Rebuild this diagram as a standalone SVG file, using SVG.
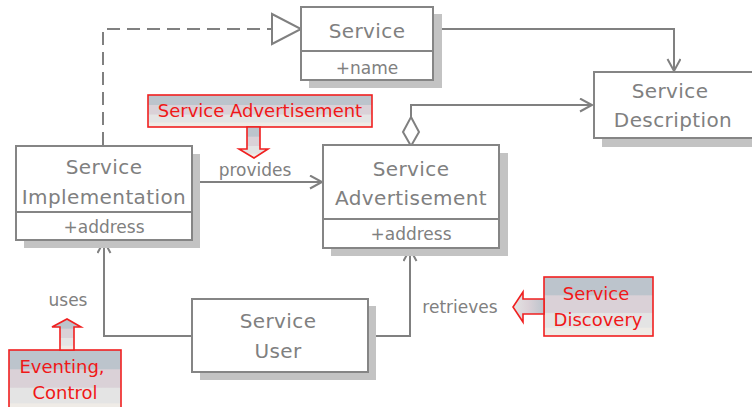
<svg xmlns="http://www.w3.org/2000/svg" width="752" height="407" viewBox="0 0 752 407">
<style>
.box{fill:#fff;stroke:#858585;stroke-width:2}
.sh{fill:#c3c3c3}
.t{font-family:"DejaVu Sans",Verdana,sans-serif;font-size:20px;letter-spacing:0.4px;fill:#808080;text-anchor:middle}
.a{font-family:"DejaVu Sans",Verdana,sans-serif;font-size:17px;fill:#808080;text-anchor:middle}
.c{font-family:"DejaVu Sans",Verdana,sans-serif;font-size:18px;fill:#f01818;text-anchor:middle}
.ln{fill:none;stroke:#808080;stroke-width:2}
.cb{fill:url(#g);stroke:#f02020;stroke-width:1.6}
</style>
<defs>
<linearGradient id="g" x1="0" y1="0" x2="0" y2="1">
<stop offset="0" stop-color="#bcc4cc"/>
<stop offset="0.3" stop-color="#bcc4cc"/>
<stop offset="0.32" stop-color="#dad1d7"/>
<stop offset="0.6" stop-color="#dad1d7"/>
<stop offset="0.62" stop-color="#e4e4e4"/>
<stop offset="0.85" stop-color="#e4e4e4"/>
<stop offset="0.87" stop-color="#efebe6"/>
<stop offset="1" stop-color="#efebe6"/>
</linearGradient>
<linearGradient id="gh" x1="0" y1="0" x2="1" y2="0">
<stop offset="0" stop-color="#e4e4e4"/>
<stop offset="0.5" stop-color="#dad1d7"/>
<stop offset="1" stop-color="#bcc4cc"/>
</linearGradient>
<marker id="arr" markerWidth="16" markerHeight="16" refX="13" refY="7" orient="auto" markerUnits="userSpaceOnUse">
<path d="M1,0.5 L13,7 L1,13.5" fill="none" stroke="#808080" stroke-width="2"/>
</marker>
</defs>

<g id="connectors">
<path class="ln" d="M103,145 V29 H272" stroke-dasharray="13,7"/>
<polygon points="272,14 301,29 272,44" fill="#fff" stroke="#808080" stroke-width="2"/>
<path class="ln" d="M433,29 H674 V71" marker-end="url(#arr)"/>
<path class="ln" d="M411,117 V105 H592" marker-end="url(#arr)"/>
<polygon points="411,117 419,132 411,146 403,132" fill="#fff" stroke="#808080" stroke-width="2"/>
<path class="ln" d="M192,182 H322" marker-end="url(#arr)"/>
<text class="a" x="255" y="176">provides</text>
<path class="ln" d="M192,336 H104 V241" marker-end="url(#arr)"/>
<text class="a" x="68" y="306">uses</text>
<path class="ln" d="M368,336 H410 V249" marker-end="url(#arr)"/>
<text class="a" x="460" y="313">retrieves</text>
</g>

<g id="service">
<rect class="sh" x="309" y="14" width="133" height="74"/>
<rect class="box" x="301" y="7" width="132" height="73"/>
<line x1="301" y1="51" x2="433" y2="51" stroke="#858585" stroke-width="2"/>
<text class="t" x="367" y="38">Service</text>
<text class="a" x="367" y="74">+name</text>
</g>

<g id="service-description">
<rect class="sh" x="602" y="80" width="160" height="67"/>
<rect class="box" x="594" y="72" width="170" height="66"/>
<text class="t" x="670" y="98">Service</text>
<text class="t" x="673" y="127">Description</text>
</g>

<g id="service-implementation">
<rect class="sh" x="24" y="154" width="176" height="94"/>
<rect class="box" x="16" y="146" width="176" height="94"/>
<line x1="16" y1="212" x2="192" y2="212" stroke="#858585" stroke-width="2"/>
<text class="t" x="104" y="174">Service</text>
<text class="t" x="104" y="204">Implementation</text>
<text class="a" x="104" y="233">+address</text>
</g>

<g id="service-advertisement">
<rect class="sh" x="331" y="153" width="177" height="103"/>
<rect class="box" x="323" y="145" width="176" height="103"/>
<line x1="323" y1="219" x2="499" y2="219" stroke="#858585" stroke-width="2"/>
<text class="t" x="411" y="176">Service</text>
<text class="t" x="411" y="205">Advertisement</text>
<text class="a" x="411" y="240">+address</text>
</g>

<g id="service-user">
<rect class="sh" x="200" y="306" width="176" height="74"/>
<rect class="box" x="192" y="299" width="176" height="73"/>
<text class="t" x="278" y="328">Service</text>
<text class="t" x="278" y="358">User</text>
</g>

<g id="callout-advertisement">
<rect class="cb" x="148" y="95" width="224" height="32"/>
<polygon class="cb" points="247,127 260,127 260,149 268,149 254,158 239,149 247,149"/>
<text class="c" x="260" y="117">Service Advertisement</text>
</g>

<g id="callout-eventing">
<rect class="cb" x="9" y="350" width="112" height="62"/>
<polygon class="cb" points="60,350 74,350 74,327 81,327 67,319 52,327 60,327"/>
<text class="c" x="62" y="373">Eventing,</text>
<text class="c" x="65" y="399">Control</text>
</g>

<g id="callout-discovery">
<rect class="cb" x="544" y="277" width="109" height="59"/>
<polygon points="544,299 523,299 523,292 513,307 523,322 523,314 544,314" fill="url(#gh)" stroke="#f02020" stroke-width="1.6"/>
<text class="c" x="596" y="300">Service</text>
<text class="c" x="598" y="326">Discovery</text>
</g>
</svg>
